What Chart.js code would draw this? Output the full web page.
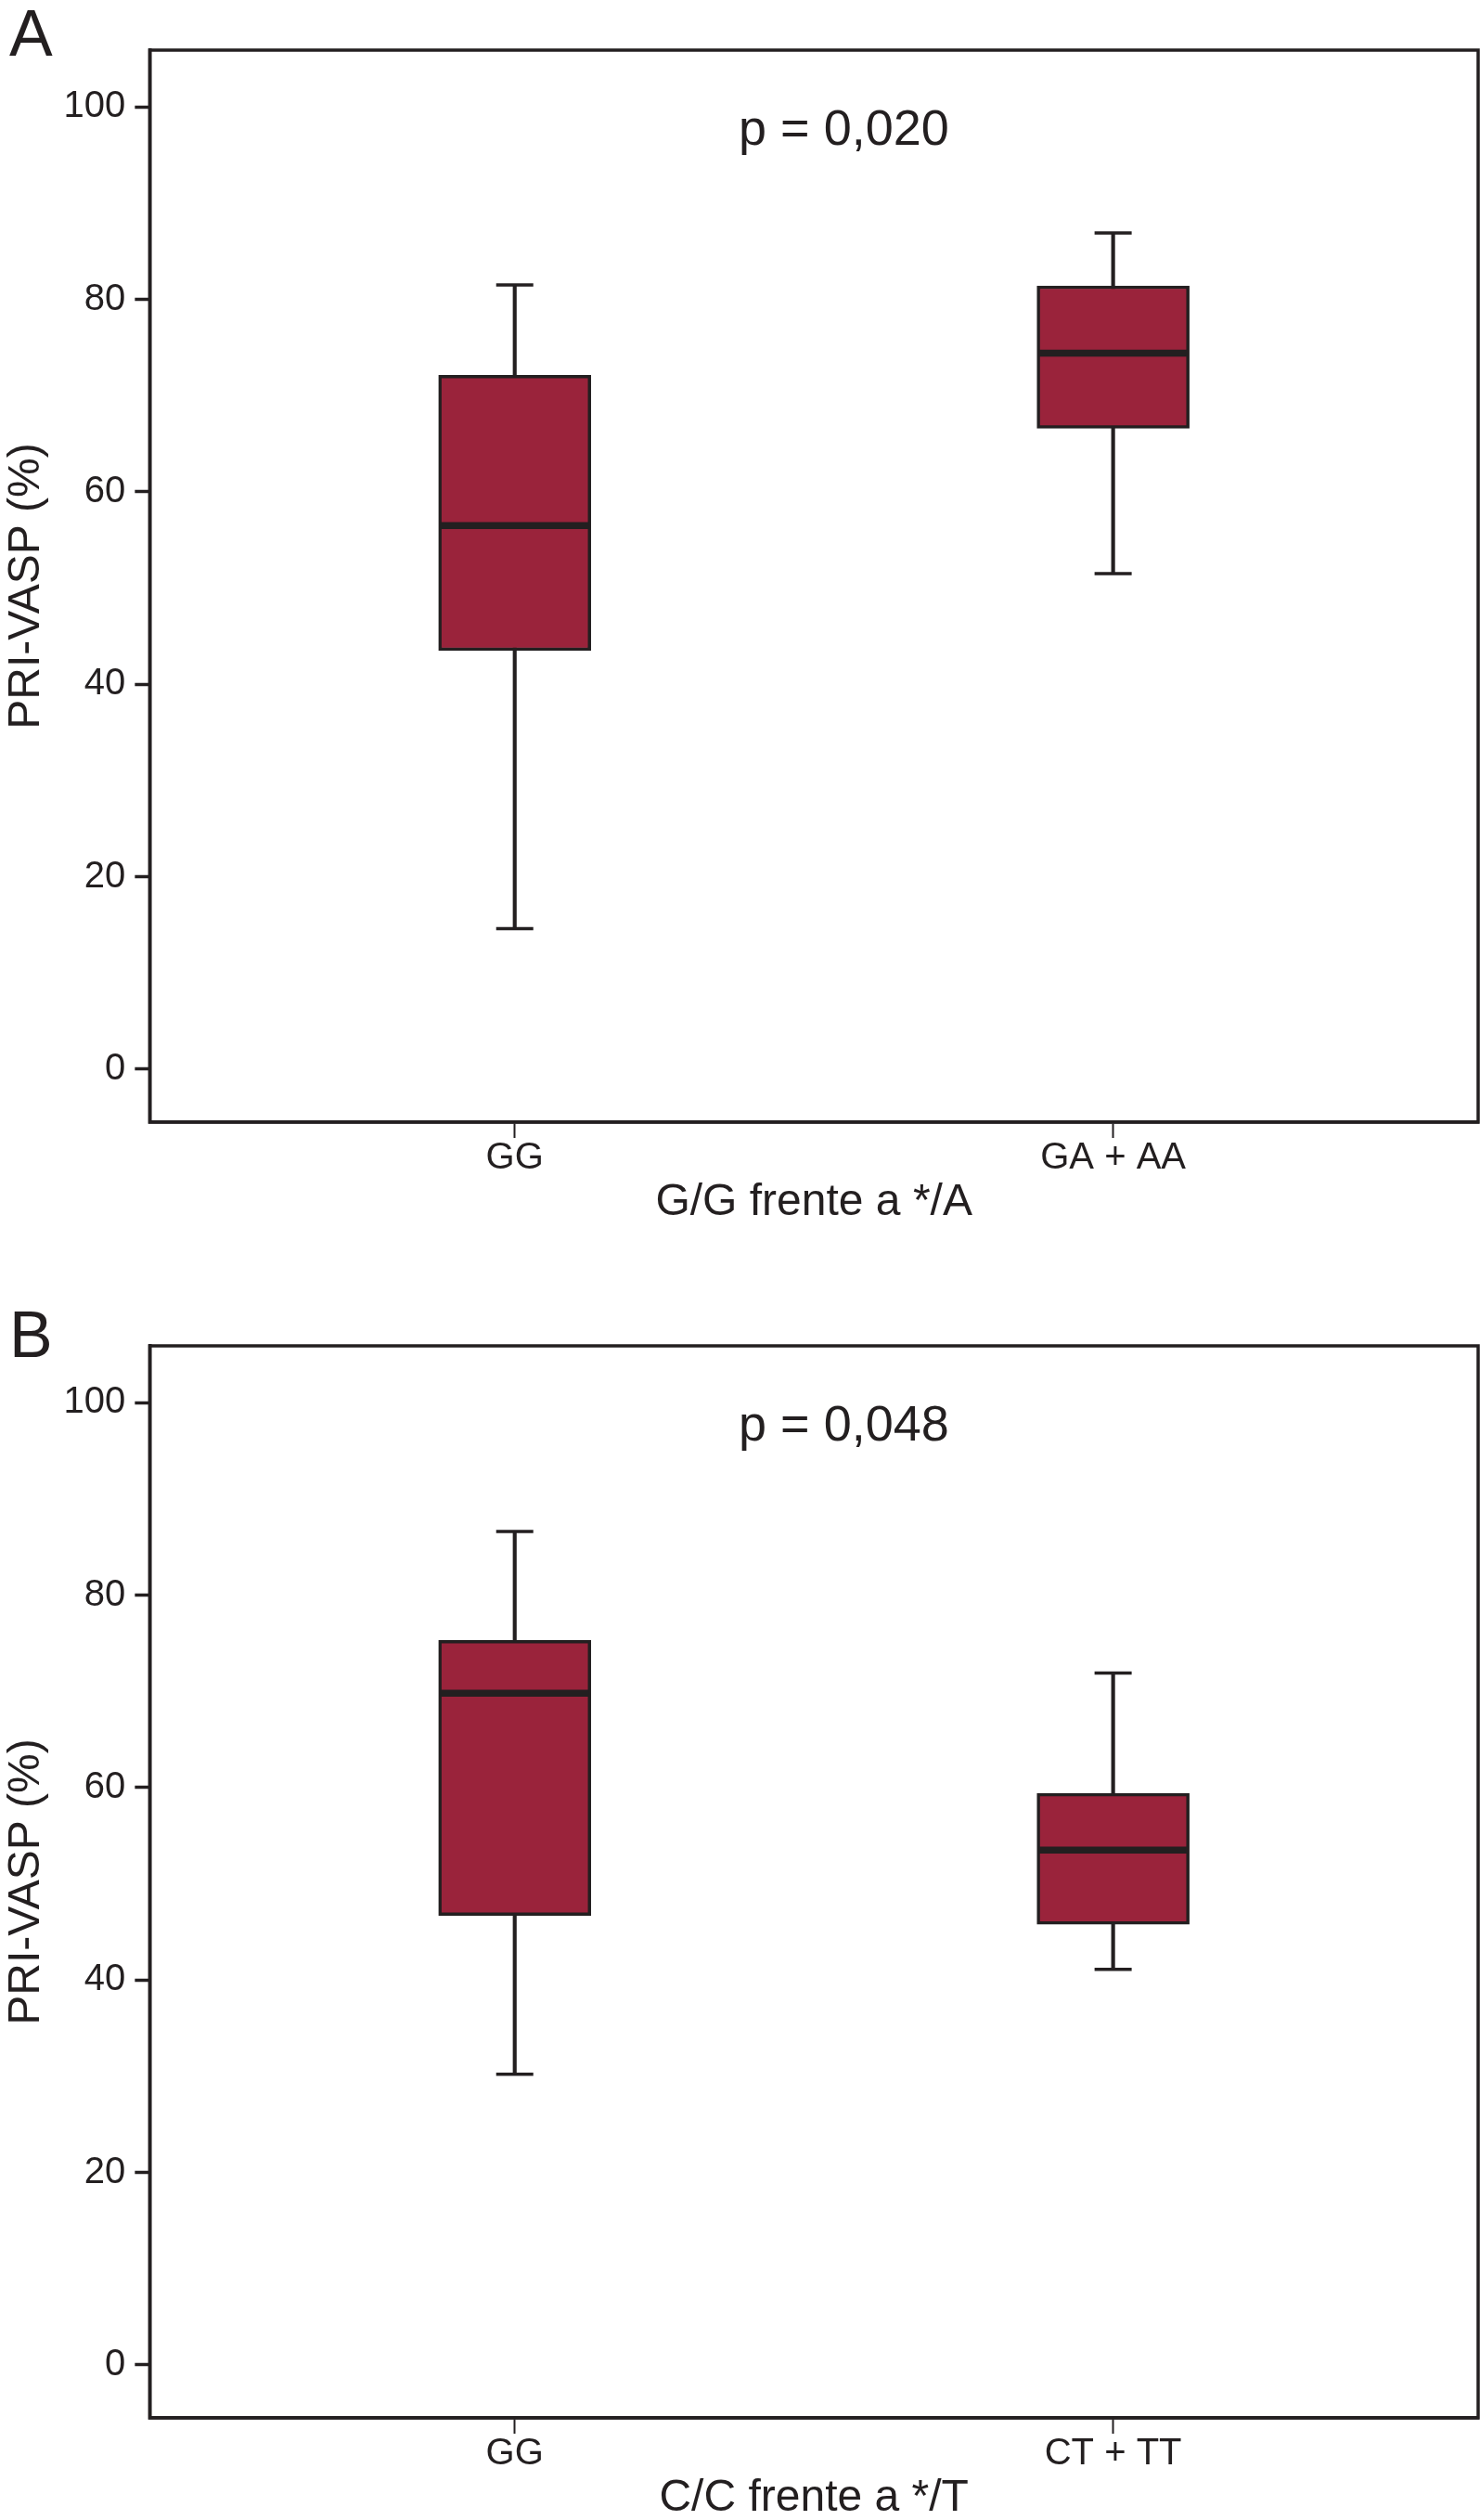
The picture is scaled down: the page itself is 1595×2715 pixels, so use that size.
<!DOCTYPE html>
<html>
<head>
<meta charset="utf-8">
<script src="https://cdn.jsdelivr.net/npm/chart.js@4.4.0/dist/chart.umd.min.js"></script>
<style>
  html, body { margin: 0; padding: 0; background: #fff; overflow: hidden; }
  .panel { position: relative; width: 1595px; height: 1396px; overflow: hidden; }
  #panelB { height: 1319px; }
  canvas { display: block; }
</style>
</head>
<body>
<div class="panel" id="panelA"><canvas id="chartA" width="1595" height="1396"></canvas></div>
<div class="panel" id="panelB"><canvas id="chartB" width="1595" height="1396"></canvas></div>
<script>
// panel A: G/G vs */A
const categoriesA = ['GG', 'GA + AA'];
const lowA = [14.6, 51.5];
const q1A = [43.5, 66.6];
const medianA = [56.5, 74.4];
const q3A = [72.1, 81.4];
const highA = [81.5, 86.9];

// panel B: C/C vs */T
const categoriesB = ['GG', 'CT + TT'];
const lowB = [30.2, 41.1];
const q1B = [46.7, 45.8];
const medianB = [69.8, 53.5];
const q3B = [75.3, 59.4];
const highB = [86.6, 71.9];

const yTicks = [0, 20, 40, 60, 80, 100];

const INK = '#231f20';
const BOX = '#9a233b';
const FONT = '"Liberation Sans", Arial, Helvetica, sans-serif';

Chart.defaults.font.family = FONT;
Chart.defaults.color = INK;

// frame, p-value and panel letter
const decor = {
  id: 'decor',
  afterDraw(chart, args, opts) {
    const { ctx, chartArea: a, scales: { x, y } } = chart;
    ctx.save();
    ctx.strokeStyle = INK;
    ctx.lineWidth = 3.5;
    ctx.strokeRect(a.left, a.top, a.right - a.left, a.bottom - a.top);
    ctx.fillStyle = INK;
    ctx.font = '54px ' + FONT;
    ctx.textAlign = 'center';
    ctx.textBaseline = 'middle';
    ctx.fillText(opts.pText, x.getPixelForValue(0.55), y.getPixelForValue(97.5));
    ctx.font = '70px ' + FONT;
    ctx.textAlign = 'left';
    ctx.textBaseline = 'alphabetic';
    ctx.fillText(opts.letter, 10, opts.letterY);
    ctx.restore();
  }
};

function boxChart(id, cats, low, q1, med, q3, high, xTitle, pText, letter, letterY) {
  const whiskers = cats.map((c, i) => ({ x: i, y: [low[i], high[i]] }));
  const boxes = cats.map((c, i) => ({ x: i, y: [q1[i], q3[i]] }));
  const caps = cats.flatMap((c, i) => [{ x: i, y: low[i] }, { x: i, y: high[i] }]);
  const medians = cats.map((c, i) => ({ x: i, y: med[i] }));

  return new Chart(document.getElementById(id), {
    data: {
      datasets: [
        {
          type: 'bar',
          data: whiskers,
          backgroundColor: INK,
          barThickness: 3.5,
          grouped: false,
          order: 3
        },
        {
          type: 'bar',
          data: boxes,
          backgroundColor: BOX,
          borderColor: INK,
          borderWidth: 3.5,
          borderSkipped: false,
          barThickness: 164,
          grouped: false,
          order: 2
        },
        {
          type: 'line',
          data: caps,
          showLine: false,
          pointStyle: 'line',
          pointRadius: 20,
          pointBorderWidth: 3.5,
          pointBorderColor: INK,
          order: 1
        },
        {
          type: 'line',
          data: medians,
          showLine: false,
          pointStyle: 'line',
          pointRadius: 80,
          pointBorderWidth: 7.5,
          pointBorderColor: INK,
          order: 1
        }
      ]
    },
    options: {
      responsive: false,
      animation: false,
      events: [],
      devicePixelRatio: 1,
      layout: { autoPadding: false, padding: { top: 54, right: 2, left: 0, bottom: 76 } },
      plugins: {
        legend: { display: false },
        tooltip: { enabled: false },
        decor: { pText: pText, letter: letter, letterY: letterY }
      },
      scales: {
        x: {
          type: 'linear',
          offset: false,
          min: -0.61,
          max: 1.61,
          afterBuildTicks: s => { s.ticks = cats.map((c, i) => ({ value: i })); },
          ticks: {
            callback: (v, i) => cats[i],
            font: { size: 40, lineHeight: 1 },
            padding: 2,
            maxRotation: 0,
            autoSkip: false
          },
          grid: { offset: false, drawOnChartArea: false, tickLength: 17, tickWidth: 2, tickColor: INK },
          border: { color: INK, width: 3.5 },
          title: {
            display: true,
            text: xTitle,
            font: { size: 48, lineHeight: 1 },
            padding: { top: 2, bottom: 0 }
          }
        },
        y: {
          min: -5.5,
          max: 105.9,
          afterBuildTicks: s => { s.ticks = yTicks.map(v => ({ value: v })); },
          ticks: {
            font: { size: 40, lineHeight: 1 },
            padding: 10
          },
          grid: { drawOnChartArea: false, tickLength: 16, tickWidth: 3.5, tickColor: INK },
          border: { color: INK, width: 3.5 },
          title: {
            display: true,
            text: 'PRI-VASP (%)',
            font: { size: 48, lineHeight: 1.2 },
            padding: { top: 0, bottom: 1 }
          }
        }
      }
    },
    plugins: [decor]
  });
}

boxChart('chartA', categoriesA, lowA, q1A, medianA, q3A, highA, 'G/G frente a */A', 'p = 0,020', 'A', 60);
boxChart('chartB', categoriesB, lowB, q1B, medianB, q3B, highB, 'C/C frente a */T', 'p = 0,048', 'B', 66);
</script>
</body>
</html>
